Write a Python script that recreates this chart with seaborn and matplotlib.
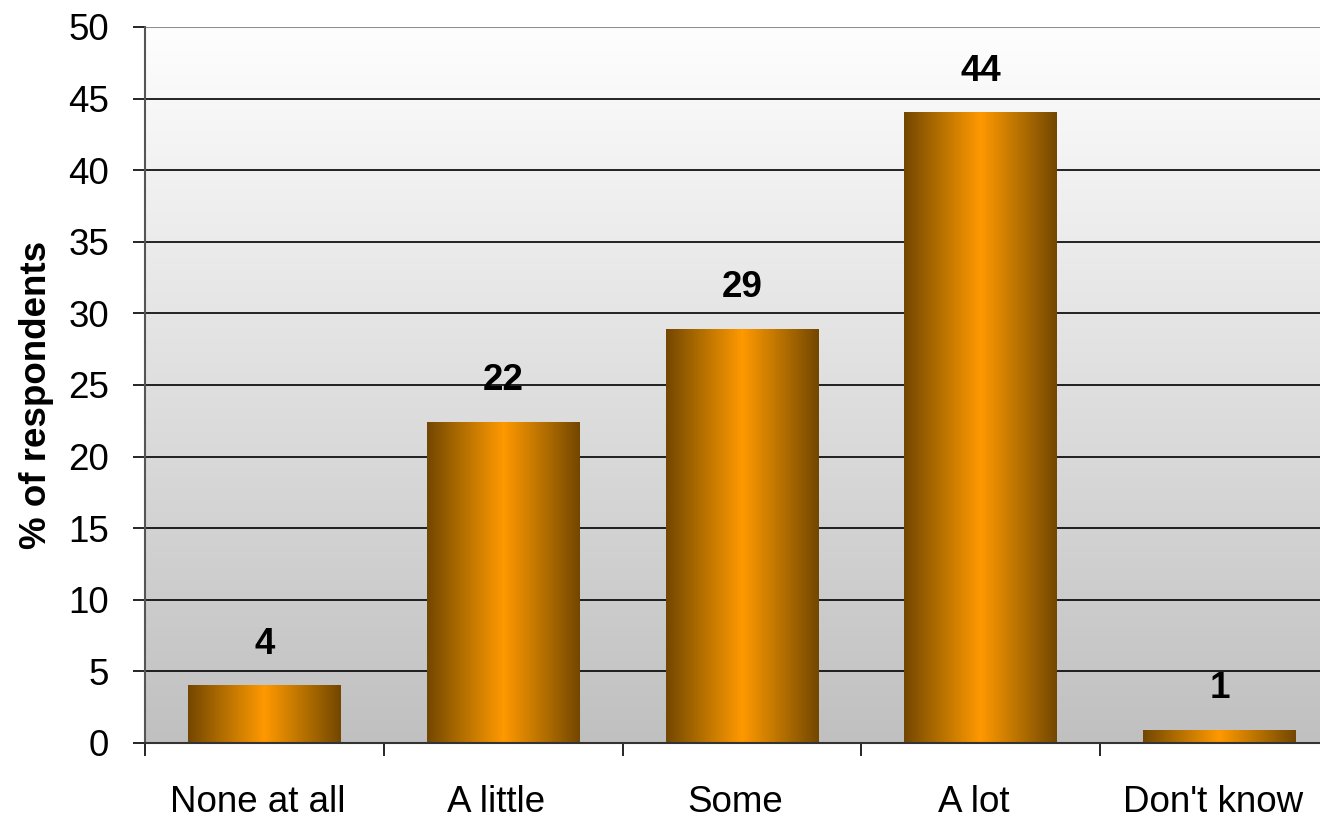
import numpy as np
import pandas as pd
import matplotlib
matplotlib.use("Agg")
import matplotlib.pyplot as plt
import seaborn as sns
from matplotlib.colors import LinearSegmentedColormap
from matplotlib.transforms import ScaledTranslation

# Survey responses
categories = ["None at all", "A little", "Some", "A lot", "Don't know"]
percentages = [4.0, 22.4, 28.9, 44.0, 0.9]
y_ticks = [0, 5, 10, 15, 20, 25, 30, 35, 40, 45, 50]

df = pd.DataFrame({"response": categories, "pct": percentages})

sns.set_theme(style="white")
plt.rcParams["font.family"] = ["Liberation Sans", "DejaVu Sans"]

FS = 26.5

fig = plt.figure(figsize=(13.2, 8.19), dpi=100)
ax = fig.add_axes([145 / 1320, 76 / 819, 1194 / 1320, 716 / 819])

sns.barplot(data=df, x="response", y="pct", width=0.64, color="#FF9900",
            edgecolor="none", linewidth=0, ax=ax, zorder=2)

ax.set_xlim(-0.5, len(categories) - 0.5)
ax.set_ylim(0, 50)
ax.set_yticks(y_ticks)

# Vertical grey background gradient (white at top, silver at bottom)
bg = np.linspace(0, 1, 256).reshape(-1, 1)
bg_cmap = LinearSegmentedColormap.from_list("bg", ["#C0C0C0", "#FEFEFE"])
ax.imshow(bg, cmap=bg_cmap, aspect="auto", extent=(0, 1, 0, 1),
          transform=ax.transAxes, origin="lower", zorder=0, interpolation="bilinear")

# Horizontal gridlines
ax.set_axisbelow(True)
ax.yaxis.grid(True, color="black", linewidth=1.2, zorder=0.5)
ax.xaxis.grid(False)

# Shaded cylinder-like fill for each bar
bar_cmap = LinearSegmentedColormap.from_list(
    "bar", [(0.0, "#734700"), (0.22, "#B06D00"), (0.5, "#FF9900"),
            (0.78, "#B06D00"), (1.0, "#734700")])
shade = np.linspace(0, 1, 256).reshape(1, -1)
for patch in ax.patches:
    x0, w = patch.get_x(), patch.get_width()
    h = patch.get_height()
    ax.imshow(shade, cmap=bar_cmap, aspect="auto",
              extent=(x0, x0 + w, 0, h), origin="lower", zorder=2.5,
              interpolation="bilinear")

# Value labels above bars
for i, v in enumerate(percentages):
    ax.annotate(f"{v:.0f}", xy=(i, v), xytext=(0, 23), textcoords="offset points",
                ha="center", va="baseline", fontsize=FS, fontweight="bold",
                color="black", zorder=5)

ax.set_xlim(-0.5, len(categories) - 0.5)
ax.set_ylim(0, 50)

# Axis styling
for side in ["top", "right"]:
    ax.spines[side].set_visible(False)
ax.spines["left"].set_color("#555555")
ax.spines["left"].set_linewidth(1.5)
ax.spines["bottom"].set_color("#333333")
ax.spines["bottom"].set_linewidth(1.5)
ax.axhline(50, color="#909090", linewidth=1.5, zorder=1)

ax.tick_params(axis="y", which="major", direction="out", length=9, width=1.2,
               color="black", pad=17, labelsize=FS, labelcolor="black", left=True)
ax.tick_params(axis="x", which="major", length=0, pad=30, labelsize=FS,
               labelcolor="black", bottom=True)
ax.set_xticks(np.arange(-0.5, len(categories), 1.0), minor=True)
ax.tick_params(axis="x", which="minor", direction="out", length=9, width=1.2,
               color="black", bottom=True)

# Category labels sit slightly left of the bar centres
shift = ScaledTranslation(-7 / 100, 0, fig.dpi_scale_trans)
for lbl in ax.get_xticklabels():
    lbl.set_transform(lbl.get_transform() + shift)

ax.set_xlabel("")
ax.set_ylabel("% of respondents", fontsize=FS, fontweight="bold", color="black")
ax.yaxis.set_label_coords(-0.076, 0.486)

fig.savefig("out.png", dpi=100, facecolor="white")
